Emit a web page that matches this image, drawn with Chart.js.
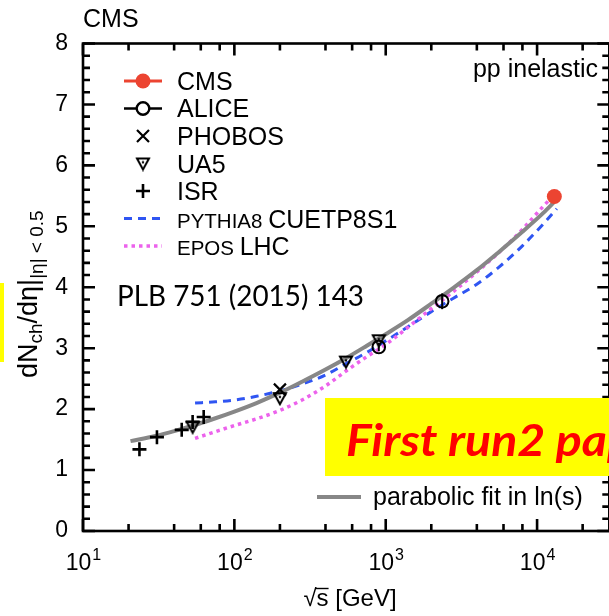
<!DOCTYPE html>
<html>
<head>
<meta charset="utf-8">
<script src="https://cdn.jsdelivr.net/npm/chart.js@4.4.0/dist/chart.umd.min.js"></script>
<style>
  html, body { margin: 0; padding: 0; background: #fff; overflow: hidden; }
  #wrap { width: 609px; height: 616px; overflow: hidden; position: relative; }
</style>
</head>
<body>
<div id="wrap"><canvas id="c" width="620" height="616"></canvas></div>
<script>
// charged multiplicity at midrapidity vs sqrt(s) [GeV]
const isrS = [23.6, 30.8, 44.9, 53, 62.7]
const isrY = [1.34, 1.54, 1.66, 1.79, 1.87]
const ua5S = [53, 200, 546, 900]
const ua5Y = [1.71, 2.18, 2.78, 3.13]
const phobosS = [200]
const phobosY = [2.32]
const aliceS = [900, 2360]
const aliceY = [3.02, 3.77]
const aliceErr = [0.07, 0.13]
const cmsS = [13000]
const cmsY = [5.49]

// parabolic fit in ln(s)
const fitS = [20.6, 30, 40, 55, 75, 100, 140, 200, 280, 400, 550, 750, 1000, 1400, 2000, 2800, 4000, 5600, 8000, 11000, 13000]
const fitY = [1.475, 1.56, 1.64, 1.74, 1.85, 1.96, 2.10, 2.27, 2.45, 2.65, 2.84, 3.04, 3.23, 3.46, 3.73, 3.99, 4.28, 4.58, 4.91, 5.22, 5.40]
// PYTHIA8 CUETP8S1
const pyS = [55, 75, 100, 140, 200, 280, 400, 550, 750, 1000, 1400, 2000, 2800, 4000, 5600, 8000, 11000, 13500]
const pyY = [2.10, 2.12, 2.15, 2.21, 2.30, 2.41, 2.56, 2.75, 2.93, 3.12, 3.35, 3.60, 3.82, 4.05, 4.33, 4.68, 5.04, 5.29]
// EPOS LHC
const epS = [55, 75, 100, 140, 200, 280, 400, 550, 750, 1000, 1400, 2000, 2800, 4000, 5600, 8000, 11000, 14400]
const epY = [1.52, 1.63, 1.73, 1.84, 1.98, 2.15, 2.38, 2.63, 2.86, 3.06, 3.34, 3.65, 3.93, 4.25, 4.57, 4.95, 5.33, 5.63]

const xMajor = [10, 100, 1000, 10000]
const xMinor = [20, 40, 60, 80, 200, 400, 600, 800, 2000, 4000, 6000, 8000, 20000]
const xExp = ['1', '2', '3', '4']

const FONT = '"Liberation Sans", Arial, Helvetica, sans-serif'
const RED = '#ec4431'
const BLUE = '#2f55f2'
const PINK = '#ec62ec'
const GREY = '#878787'

const pairs = (xs, ys) => xs.map((v, i) => ({ x: v, y: ys[i] }))

// open down-triangle with a small centre dot (UA5 marker)
const triImg = document.createElement('canvas')
triImg.width = 16
triImg.height = 16
;(function () {
  const t = triImg.getContext('2d')
  t.strokeStyle = '#000'
  t.lineWidth = 2
  t.beginPath()
  t.moveTo(2, 3)
  t.lineTo(14, 3)
  t.lineTo(8, 14)
  t.closePath()
  t.stroke()
  t.fillStyle = '#000'
  t.beginPath()
  t.arc(8, 6.8, 1.2, 0, Math.PI * 2)
  t.fill()
})()

// draw text squeezed/stretched to a given width
function fitText(ctx, text, x, y, width) {
  let w = ctx.measureText(text).width
  ctx.save()
  ctx.translate(x, y)
  ctx.scale(width / w, 1)
  ctx.fillText(text, 0, 0)
  ctx.restore()
}

const frame = {
  id: 'frame',
  afterDatasetsDraw(chart) {
    const { ctx, chartArea: a, scales: { x, y } } = chart
    ctx.save()

    // error bars
    ctx.strokeStyle = '#000'
    ctx.lineWidth = 2
    aliceS.forEach((s, i) => {
      const px = x.getPixelForValue(s)
      ctx.beginPath()
      ctx.moveTo(px, y.getPixelForValue(aliceY[i] - aliceErr[i]))
      ctx.lineTo(px, y.getPixelForValue(aliceY[i] + aliceErr[i]))
      ctx.stroke()
    })

    // frame and inward ticks
    ctx.lineWidth = 2.6
    ctx.strokeRect(a.left, a.top, a.right - a.left, a.bottom - a.top)
    ctx.beginPath()
    const tick = (px, len) => {
      ctx.moveTo(px, a.bottom); ctx.lineTo(px, a.bottom - len)
      ctx.moveTo(px, a.top); ctx.lineTo(px, a.top + len)
    }
    xMajor.forEach(v => tick(x.getPixelForValue(v), 12))
    xMinor.forEach(v => tick(x.getPixelForValue(v), 7))
    for (let k = 0; k <= 40; k++) {
      const py = y.getPixelForValue(k / 5)
      const len = k % 5 === 0 ? 12 : 7
      ctx.moveTo(a.left, py); ctx.lineTo(a.left + len, py)
      ctx.moveTo(a.right, py); ctx.lineTo(a.right - len, py)
    }
    ctx.stroke()

    // x tick labels 10^n
    ctx.fillStyle = '#000'
    ctx.textBaseline = 'alphabetic'
    ctx.textAlign = 'left'
    xMajor.forEach((v, i) => {
      ctx.font = '23px ' + FONT
      const w1 = ctx.measureText('10').width
      ctx.font = '16px ' + FONT
      const w2 = ctx.measureText(xExp[i]).width
      const left = x.getPixelForValue(v) - (w1 + w2) / 2
      ctx.font = '23px ' + FONT
      ctx.fillText('10', left, 570)
      ctx.font = '16px ' + FONT
      ctx.fillText(xExp[i], left + w1 + 1, 560)
    })

    // x title
    ctx.font = '24px ' + FONT
    const sw = ctx.measureText('s').width
    const rw = ctx.measureText('\u221a').width
    const tw = ctx.measureText(' [GeV]').width
    let tx = 350 - (rw + sw + tw) / 2
    ctx.fillText('\u221a', tx, 606)
    ctx.fillText('s', tx + rw, 606)
    ctx.lineWidth = 1.4
    ctx.beginPath()
    ctx.moveTo(tx + rw - 1, 588.5)
    ctx.lineTo(tx + rw + sw, 588.5)
    ctx.stroke()
    ctx.fillText(' [GeV]', tx + rw + sw, 606)

    // y title
    ctx.save()
    ctx.translate(37, 378)
    ctx.rotate(-Math.PI / 2)
    let p = 0
    const seg = (t, size, dy) => {
      ctx.font = size + 'px ' + FONT
      ctx.fillText(t, p, dy)
      p += ctx.measureText(t).width
    }
    seg('dN', 27, 0)
    seg('ch', 19, 5)
    seg('/d\u03b7', 27, 0)
    seg('|', 27, 0)
    seg('|\u03b7| < 0.5', 19, 6)
    ctx.restore()

    // labels
    ctx.font = '25px ' + FONT
    ctx.fillText('CMS', 83, 27)
    ctx.textAlign = 'right'
    ctx.fillText('pp inelastic', 598, 77)
    ctx.textAlign = 'left'

    // legend
    const lx0 = 124, lx1 = 162, mx = 143, tx0 = 177
    const rows = [81, 108.5, 136, 163.5, 191, 218.5, 246]
    const base = [89.5, 117, 145, 172.5, 200, 227.5, 255]

    ctx.strokeStyle = RED; ctx.lineWidth = 3
    ctx.beginPath(); ctx.moveTo(lx0, rows[0]); ctx.lineTo(lx1, rows[0]); ctx.stroke()
    ctx.fillStyle = RED
    ctx.beginPath(); ctx.arc(mx, rows[0], 7.5, 0, Math.PI * 2); ctx.fill()

    ctx.strokeStyle = '#000'; ctx.lineWidth = 2.4
    ctx.beginPath(); ctx.moveTo(lx0, rows[1]); ctx.lineTo(lx1, rows[1]); ctx.stroke()
    ctx.fillStyle = '#fff'
    ctx.beginPath(); ctx.arc(mx, rows[1], 6.3, 0, Math.PI * 2); ctx.fill(); ctx.stroke()

    ctx.lineWidth = 2.2
    ctx.beginPath()
    ctx.moveTo(mx - 6, rows[2] - 6); ctx.lineTo(mx + 6, rows[2] + 6)
    ctx.moveTo(mx + 6, rows[2] - 6); ctx.lineTo(mx - 6, rows[2] + 6)
    ctx.stroke()

    ctx.drawImage(triImg, mx - 8, rows[3] - 8)

    ctx.lineWidth = 2.6
    ctx.beginPath()
    ctx.moveTo(mx - 7, rows[4]); ctx.lineTo(mx + 7, rows[4])
    ctx.moveTo(mx, rows[4] - 7); ctx.lineTo(mx, rows[4] + 7)
    ctx.stroke()

    ctx.strokeStyle = BLUE; ctx.lineWidth = 3; ctx.setLineDash([8, 6])
    ctx.beginPath(); ctx.moveTo(lx0, rows[5]); ctx.lineTo(lx1, rows[5]); ctx.stroke()
    ctx.strokeStyle = PINK; ctx.lineWidth = 3.5; ctx.setLineDash([3.5, 4])
    ctx.beginPath(); ctx.moveTo(lx0, rows[6]); ctx.lineTo(lx1, rows[6]); ctx.stroke()
    ctx.setLineDash([])

    ctx.fillStyle = '#000'
    ctx.font = '25px ' + FONT
    ;['CMS', 'ALICE', 'PHOBOS', 'UA5', 'ISR'].forEach((t, i) => ctx.fillText(t, tx0, base[i]))
    ctx.font = '20.5px ' + FONT
    ctx.fillText('PYTHIA8', tx0, base[5])
    let w = ctx.measureText('PYTHIA8 ').width
    ctx.font = '25px ' + FONT
    ctx.fillText('CUETP8S1', tx0 + w, base[5])
    ctx.font = '20.5px ' + FONT
    ctx.fillText('EPOS', tx0, base[6])
    w = ctx.measureText('EPOS ').width
    ctx.font = '25px ' + FONT
    ctx.fillText('LHC', tx0 + w, base[6])

    // fit legend entry
    ctx.strokeStyle = GREY; ctx.lineWidth = 4
    ctx.beginPath(); ctx.moveTo(317, 497); ctx.lineTo(361, 497); ctx.stroke()
    ctx.fillText('parabolic fit in ln(s)', 373, 505)

    // reference and banner
    ctx.font = '28px Lato, "Open Sans", sans-serif'
    fitText(ctx, 'PLB 751 (2015) 143', 117, 306, 247)

    ctx.fillStyle = '#ffff00'
    ctx.fillRect(325, 398, 300, 78)
    ctx.fillRect(0, 283, 4, 79)
    ctx.fillStyle = '#ff0000'
    ctx.font = 'italic bold 44px Lato, "Open Sans", sans-serif'
    const full = ctx.measureText('First run2 paper').width
    const part = ctx.measureText('First run2 pa').width
    fitText(ctx, 'First run2 paper', 346, 456, full * 261 / part)

    ctx.restore()
  }
}

new Chart(document.getElementById('c'), {
  type: 'scatter',
  data: {
    datasets: [
      { label: 'CMS', data: pairs(cmsS, cmsY), pointStyle: 'circle', pointRadius: 7.5,
        backgroundColor: RED, borderColor: RED, borderWidth: 0, order: 0 },
      { label: 'ALICE', data: pairs(aliceS, aliceY), pointStyle: 'circle', pointRadius: 6.3,
        backgroundColor: 'rgba(0,0,0,0)', borderColor: '#000', borderWidth: 2, order: 1 },
      { label: 'PHOBOS', data: pairs(phobosS, phobosY), pointStyle: 'crossRot', pointRadius: 8.5,
        borderColor: '#000', borderWidth: 2.2, order: 2 },
      { label: 'UA5', data: pairs(ua5S, ua5Y), pointStyle: triImg, order: 3 },
      { label: 'ISR', data: pairs(isrS, isrY), pointStyle: 'cross', pointRadius: 7,
        borderColor: '#000', borderWidth: 2.6, order: 4 },
      { label: 'parabolic fit in ln(s)', data: pairs(fitS, fitY), showLine: true, pointRadius: 0,
        borderColor: GREY, borderWidth: 4, cubicInterpolationMode: 'monotone', order: 5 },
      { label: 'EPOS LHC', data: pairs(epS, epY), showLine: true, pointRadius: 0,
        borderColor: PINK, borderWidth: 3.5, borderDash: [3.5, 4], cubicInterpolationMode: 'monotone', order: 6 },
      { label: 'PYTHIA8 CUETP8S1', data: pairs(pyS, pyY), showLine: true, pointRadius: 0,
        borderColor: BLUE, borderWidth: 3, borderDash: [8, 6], cubicInterpolationMode: 'monotone', order: 7 }
    ]
  },
  options: {
    responsive: false,
    animation: false,
    devicePixelRatio: 1,
    layout: { padding: { top: 43.5, right: 8.5, left: 0, bottom: 0 } },
    plugins: { legend: { display: false }, tooltip: { enabled: false } },
    scales: {
      x: {
        type: 'logarithmic', min: 10, max: 30000,
        ticks: { display: false },
        grid: { display: false, drawTicks: false },
        border: { display: false },
        afterFit(s) { s.height = 85 }
      },
      y: {
        min: 0, max: 8,
        ticks: { stepSize: 1, padding: 15, color: '#000', font: { family: FONT, size: 23 } },
        grid: { display: false, drawTicks: false },
        border: { display: false },
        afterFit(s) { s.width = 83 }
      }
    }
  },
  plugins: [frame]
})
</script>
</body>
</html>
